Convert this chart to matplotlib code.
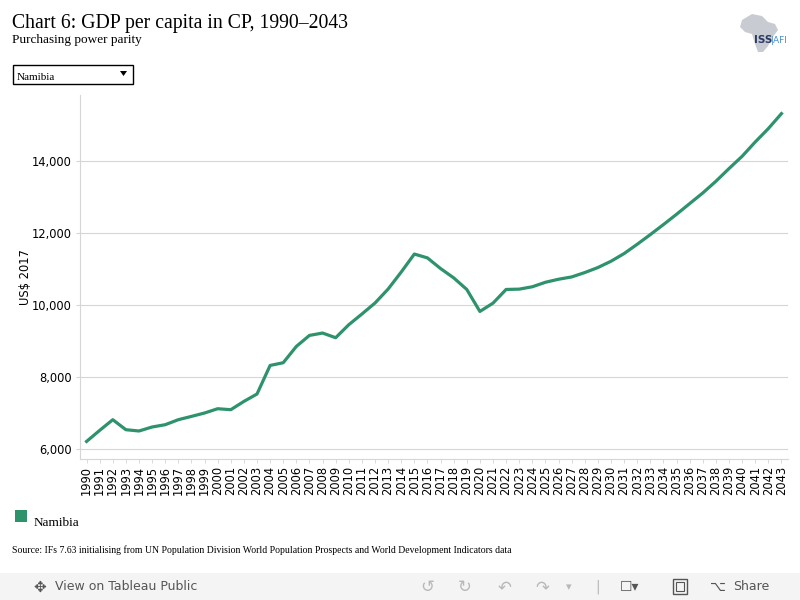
import numpy as np
import matplotlib
matplotlib.use("Agg")
import matplotlib.pyplot as plt
from matplotlib.patches import Rectangle, Polygon
from matplotlib.ticker import FuncFormatter

# GDP per capita (PPP, US$ 2017) for Namibia
years = list(range(1990, 2044))
gdp_per_capita = [
    6210, 6517, 6814, 6536, 6500, 6611, 6675, 6814, 6906, 7000,
    7119, 7092, 7322, 7528, 8322, 8397, 8850, 9156, 9222, 9092,
    9453, 9750, 10056, 10444, 10917, 11417, 11310, 11014, 10756, 10433,
    9822, 10053, 10433, 10442, 10508, 10633, 10717, 10781, 10903, 11042,
    11217, 11431, 11689, 11958, 12236, 12522, 12819, 13114, 13439, 13792,
    14133, 14531, 14903, 15319,
]
country = "Namibia"
y_ticks = [6000, 8000, 10000, 12000, 14000]

line_color = "#2e936c"
grid_color = "#d6d6d6"
serif = "Liberation Serif"
sans = "DejaVu Sans"

fig = plt.figure(figsize=(8, 6), dpi=100)
fig.patch.set_facecolor("white")

# main plot area
ax = fig.add_axes([0.1, 0.235, 0.885, 0.607])
ax.plot(years, gdp_per_capita, color=line_color, linewidth=2.3, solid_joinstyle="round")
ax.set_xlim(1989.5, 2043.5)
ax.set_ylim(5722, 15842)
ax.set_yticks(y_ticks)
ax.yaxis.set_major_formatter(FuncFormatter(lambda v, p: f"{int(v):,}"))
ax.set_xticks(years)
ax.set_xticklabels([str(y) for y in years], rotation=90, fontsize=8.3, family=sans)
ax.tick_params(axis="x", length=3, width=0.6, color=grid_color, pad=2)
ax.tick_params(axis="y", length=3, width=0.8, color=grid_color, labelsize=8.3, pad=3)
for lbl in ax.get_yticklabels():
    lbl.set_family(sans)
ax.grid(axis="y", color=grid_color, linewidth=0.8)
ax.set_axisbelow(True)
for side in ["top", "right"]:
    ax.spines[side].set_visible(False)
for side in ["left", "bottom"]:
    ax.spines[side].set_color(grid_color)
    ax.spines[side].set_linewidth(0.8)
ax.set_ylabel("US$ 2017", fontsize=8.3, family=sans, labelpad=0)

# titles
fig.text(0.015, 0.953, "Chart 6: GDP per capita in CP, 1990\u20132043", family=serif,
         fontsize=14.2, va="baseline")
fig.text(0.015, 0.928, "Purchasing power parity", family=serif, fontsize=9.5, va="baseline")

# dropdown box
fig.patches.append(Rectangle((13 / 800, 1 - 84 / 600), 120 / 800, 19 / 600,
                             transform=fig.transFigure, facecolor="white",
                             edgecolor="black", linewidth=1))
fig.text(17 / 800, 1 - 78 / 600, country, family=serif, fontsize=8, va="center")
fig.patches.append(Polygon([(120 / 800, 1 - 71 / 600), (127 / 800, 1 - 71 / 600),
                            (123.5 / 800, 1 - 76 / 600)], closed=True,
                           transform=fig.transFigure, facecolor="black"))

# logo (rough Africa outline + ISS|AFI)
africa = [(742, 20), (752, 14), (762, 16), (768, 22), (775, 24), (778, 30),
          (772, 38), (768, 46), (763, 52), (758, 52), (755, 44), (752, 34),
          (745, 32), (740, 27)]
fig.patches.append(Polygon([(x / 800, 1 - y / 600) for x, y in africa], closed=True,
                           transform=fig.transFigure, facecolor="#c8ccd2",
                           edgecolor="none"))
fig.text(754 / 800, 1 - 43 / 600, "ISS", family=sans, fontsize=7.5, color="#2b3a67",
         weight="bold", va="baseline")
fig.text(771 / 800, 1 - 43 / 600, "|AFI", family=sans, fontsize=6.5, color="#4a90c8",
         va="baseline")

# legend
fig.patches.append(Rectangle((15 / 800, 1 - 522 / 600), 12 / 800, 12 / 600,
                             transform=fig.transFigure, facecolor=line_color,
                             edgecolor="none"))
fig.text(34 / 800, 1 - 526 / 600, country, family=serif, fontsize=9.5, va="baseline")

# source
fig.text(12 / 800, 1 - 553 / 600,
         "Source: IFs 7.63 initialising from UN Population Division World Population "
         "Prospects and World Development Indicators data",
         family=serif, fontsize=7, va="baseline")

# tableau toolbar
fig.patches.append(Rectangle((0, 0), 1, 27 / 600, transform=fig.transFigure,
                             facecolor="#f4f4f4", edgecolor="none"))
tb_y = 1 - 587 / 600
fig.text(33 / 800, tb_y, "\u2725", family=sans, fontsize=11, color="#555555", va="center")
fig.text(55 / 800, tb_y, "View on Tableau Public", family=sans, fontsize=9,
         color="#555555", va="center")
for x, g in [(420, "\u21ba"), (458, "\u21bb"), (498, "\u21b6"), (535, "\u21b7")]:
    fig.text(x / 800, tb_y, g, family=sans, fontsize=12, color="#b8b8b8", va="center")
fig.text(566 / 800, tb_y, "\u25be", family=sans, fontsize=8, color="#b8b8b8", va="center")
fig.text(595 / 800, tb_y, "|", family=sans, fontsize=10, color="#b8b8b8", va="center")
fig.text(620 / 800, tb_y, "\u2610\u25be", family=sans, fontsize=10, color="#555555", va="center")
# fullscreen icon drawn as a small frame
fig.patches.append(Rectangle((673 / 800, 1 - 594 / 600), 14 / 800, 15 / 600,
                             transform=fig.transFigure, facecolor="none",
                             edgecolor="#555555", linewidth=1))
fig.patches.append(Rectangle((676 / 800, 1 - 591 / 600), 8 / 800, 9 / 600,
                             transform=fig.transFigure, facecolor="none",
                             edgecolor="#555555", linewidth=0.8))
fig.text(710 / 800, tb_y, "\u2325", family=sans, fontsize=10, color="#555555", va="center")
fig.text(733 / 800, tb_y, "Share", family=sans, fontsize=9, color="#555555", va="center")

fig.savefig("out.png", dpi=100)
